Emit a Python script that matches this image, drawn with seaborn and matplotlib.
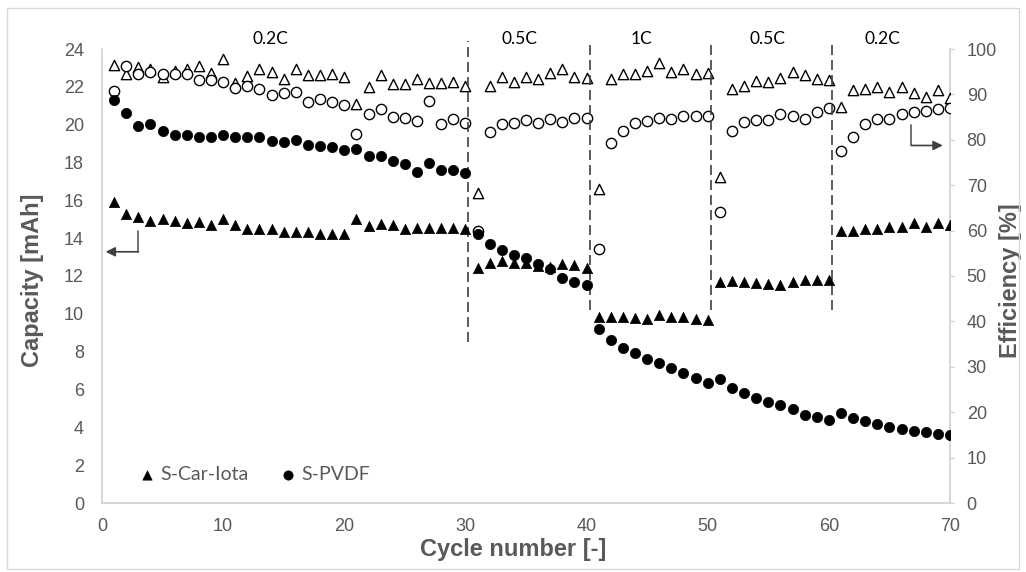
import numpy as np
import pandas as pd
import matplotlib
matplotlib.use("Agg")
import matplotlib.pyplot as plt
import seaborn as sns

# ---- data ----
cycles = list(range(1, 71))
car_capacity = [15.9, 15.3, 15.1, 14.9, 15.0, 14.9, 14.8, 14.85, 14.7, 15.0,
                14.7, 14.5, 14.5, 14.5, 14.3, 14.35, 14.3, 14.2, 14.2, 14.2,
                15.0, 14.65, 14.75, 14.7, 14.5, 14.55, 14.55, 14.55, 14.55, 14.5,
                12.4, 12.7, 12.8, 12.7, 12.7, 12.55, 12.45, 12.65, 12.6, 12.4,
                9.83, 9.83, 9.83, 9.79, 9.75, 9.93, 9.85, 9.85, 9.75, 9.66,
                11.7, 11.75, 11.7, 11.65, 11.6, 11.5, 11.7, 11.8, 11.8, 11.8,
                14.4, 14.4, 14.5, 14.5, 14.6, 14.6, 14.8, 14.6, 14.8, 14.7]
pvdf_capacity = [21.3, 20.6, 19.95, 20.04, 19.64, 19.43, 19.43, 19.34, 19.34, 19.43,
                 19.34, 19.34, 19.34, 19.16, 19.07, 19.2, 18.92, 18.85, 18.8, 18.64,
                 18.7, 18.32, 18.35, 18.1, 17.92, 17.5, 18.0, 17.62, 17.58, 17.44,
                 14.2, 13.7, 13.4, 13.13, 12.96, 12.66, 12.35, 11.9, 11.67, 11.5,
                 9.21, 8.6, 8.21, 7.91, 7.63, 7.42, 7.12, 6.89, 6.61, 6.33,
                 6.54, 6.1, 5.8, 5.57, 5.34, 5.17, 4.96, 4.66, 4.52, 4.39,
                 4.76, 4.48, 4.31, 4.17, 4.03, 3.9, 3.81, 3.73, 3.66, 3.59]
car_efficiency = [96.5, 94.6, 96.0, 95.5, 93.8, 95.2, 95.7, 96.3, 94.8, 97.8,
                  92.6, 94.1, 95.5, 95.0, 93.4, 95.7, 94.2, 94.2, 94.6, 93.9,
                  87.8, 91.6, 94.3, 92.3, 92.3, 93.3, 92.5, 92.5, 92.7, 91.9,
                  68.3, 91.9, 93.8, 92.8, 93.8, 93.5, 94.8, 95.7, 93.9, 93.6,
                  69.2, 93.4, 94.6, 94.4, 95.2, 97.0, 95.0, 95.5, 94.5, 94.8,
                  71.8, 91.2, 91.9, 93.0, 92.7, 93.6, 95.0, 94.3, 93.3, 93.2,
                  87.2, 91.0, 91.1, 91.6, 90.6, 91.6, 90.4, 89.5, 91.0, 89.2]
pvdf_efficiency = [90.8, 96.3, 94.6, 95.0, 94.4, 94.5, 94.6, 93.2, 93.2, 92.8,
                   91.5, 91.9, 91.1, 89.9, 90.3, 90.6, 88.4, 88.9, 88.4, 87.7,
                   81.3, 85.6, 86.7, 85.1, 84.9, 84.2, 88.6, 83.5, 84.6, 83.8,
                   60.0, 81.8, 83.5, 83.7, 84.4, 83.7, 84.5, 83.9, 84.9, 84.9,
                   56.0, 79.4, 82.0, 83.7, 84.2, 84.9, 84.6, 85.3, 85.3, 85.3,
                   64.0, 82.0, 84.0, 84.4, 84.4, 85.6, 85.3, 84.5, 86.2, 87.1,
                   77.6, 80.6, 83.5, 84.5, 84.6, 85.6, 86.2, 86.4, 86.8, 87.1]
rate_labels = ["0.2C", "0.5C", "1C", "0.5C", "0.2C"]
rate_label_x = [13.9, 34.5, 44.5, 54.9, 64.4]
rate_boundaries = [30.2, 40.3, 50.3, 60.3]

df = pd.DataFrame({"cycle": cycles, "car_cap": car_capacity, "pvdf_cap": pvdf_capacity,
                   "car_eff": car_efficiency, "pvdf_eff": pvdf_efficiency})

sns.set_theme(style="white")
plt.rcParams["font.family"] = ["Liberation Sans", "DejaVu Sans"]

GRAY_TXT = "#595959"
AX_GRAY = "#d0d0d0"

fig = plt.figure(figsize=(10.26, 5.72), dpi=100)
ax = fig.add_axes([102/1026, 1-503/572, 848/1026, 454/572])
ax2 = ax.twinx()

ms = 55
sns.scatterplot(data=df, x="cycle", y="car_eff", ax=ax2, marker="^", s=ms,
                facecolor="white", edgecolor="black", linewidth=1.0, zorder=3)
sns.scatterplot(data=df, x="cycle", y="pvdf_eff", ax=ax2, marker="o", s=ms,
                facecolor="white", edgecolor="black", linewidth=1.0, zorder=3)
sns.scatterplot(data=df, x="cycle", y="car_cap", ax=ax, marker="^", s=ms,
                color="black", edgecolor="black", linewidth=0.5, label="S-Car-Iota", zorder=4)
sns.scatterplot(data=df, x="cycle", y="pvdf_cap", ax=ax, marker="o", s=ms,
                color="black", edgecolor="black", linewidth=0.5, label="S-PVDF", zorder=4)

ax.set_zorder(ax2.get_zorder() + 1)
ax.patch.set_visible(False)

ax.set_xlim(0, 70)
ax.set_ylim(0, 24)
ax2.set_ylim(0, 100)
ax.set_xticks(range(0, 71, 10))
ax.set_yticks(range(0, 25, 2))
ax2.set_yticks(range(0, 101, 10))

for a in (ax, ax2):
    for s in a.spines.values():
        s.set_visible(False)
ax.spines["left"].set_visible(True)
ax.spines["bottom"].set_visible(True)
ax2.spines["right"].set_visible(True)
for s in (ax.spines["left"], ax.spines["bottom"], ax2.spines["right"]):
    s.set_color(AX_GRAY)
    s.set_linewidth(1.2)

ax.tick_params(axis="y", length=0, labelsize=13, labelcolor=GRAY_TXT, pad=13)
ax.tick_params(axis="x", length=0, labelsize=13, labelcolor=GRAY_TXT, pad=11)
ax2.tick_params(axis="y", length=3, width=1.0, color=AX_GRAY, direction="out",
                labelsize=13, labelcolor=GRAY_TXT, pad=9)

ax.set_xlabel("Cycle number [-]", fontsize=17, fontweight="bold", color=GRAY_TXT, va="center")
ax.xaxis.set_label_coords(0.485, -0.1035)
ax.set_ylabel("Capacity [mAh]", fontsize=17, fontweight="bold", color=GRAY_TXT, va="center")
ax.yaxis.set_label_coords(-0.0825, 0.49)
ax2.set_ylabel("Efficiency [%]", fontsize=17, fontweight="bold", color=GRAY_TXT, va="center")
ax2.yaxis.set_label_coords(1.0708, 0.49)
ax.grid(False)
ax2.grid(False)

# rate boundaries
for i, xb in enumerate(rate_boundaries):
    ylo = 8.5 if i == 0 else 10.2
    ax.plot([xb, xb], [ylo, 24.4], color="#404040", lw=1.2, ls=(0, (6, 3)),
            clip_on=False, zorder=2)
for lbl, xl in zip(rate_labels, rate_label_x):
    ax.text(xl, 24.55, lbl, ha="center", va="center", fontsize=12.5,
            family=["Lato", "DejaVu Sans"], color="black", clip_on=False)

# arrows
ax.plot([3.0, 3.0], [14.36, 13.28], color="#595959", lw=1.2)
ax.annotate("", xy=(0.3, 13.28), xytext=(3.0, 13.28),
            arrowprops=dict(arrowstyle="-|>", color="#404040", lw=1.2,
                            mutation_scale=14, shrinkA=0, shrinkB=0))
ax.plot([66.8, 66.8], [19.99, 18.9], color="#595959", lw=1.2)
ax.annotate("", xy=(69.4, 18.9), xytext=(66.8, 18.9),
            arrowprops=dict(arrowstyle="-|>", color="#404040", lw=1.2,
                            mutation_scale=14, shrinkA=0, shrinkB=0))

leg = ax.legend(loc="center left", bbox_to_anchor=(0.0235, 0.062), ncol=2, frameon=False,
                prop={"family": ["Lato", "DejaVu Sans"], "size": 14},
                handlelength=0.8, handletextpad=0.3, columnspacing=1.6, markerscale=0.9)
for t in leg.get_texts():
    t.set_color(GRAY_TXT)

# chart border
fig.patches.append(plt.Rectangle((7/1026, 3/572), 1012/1026, 561/572, transform=fig.transFigure,
                                 fill=False, edgecolor="#d9d9d9", lw=1.0))

fig.savefig("out.png", dpi=100)
